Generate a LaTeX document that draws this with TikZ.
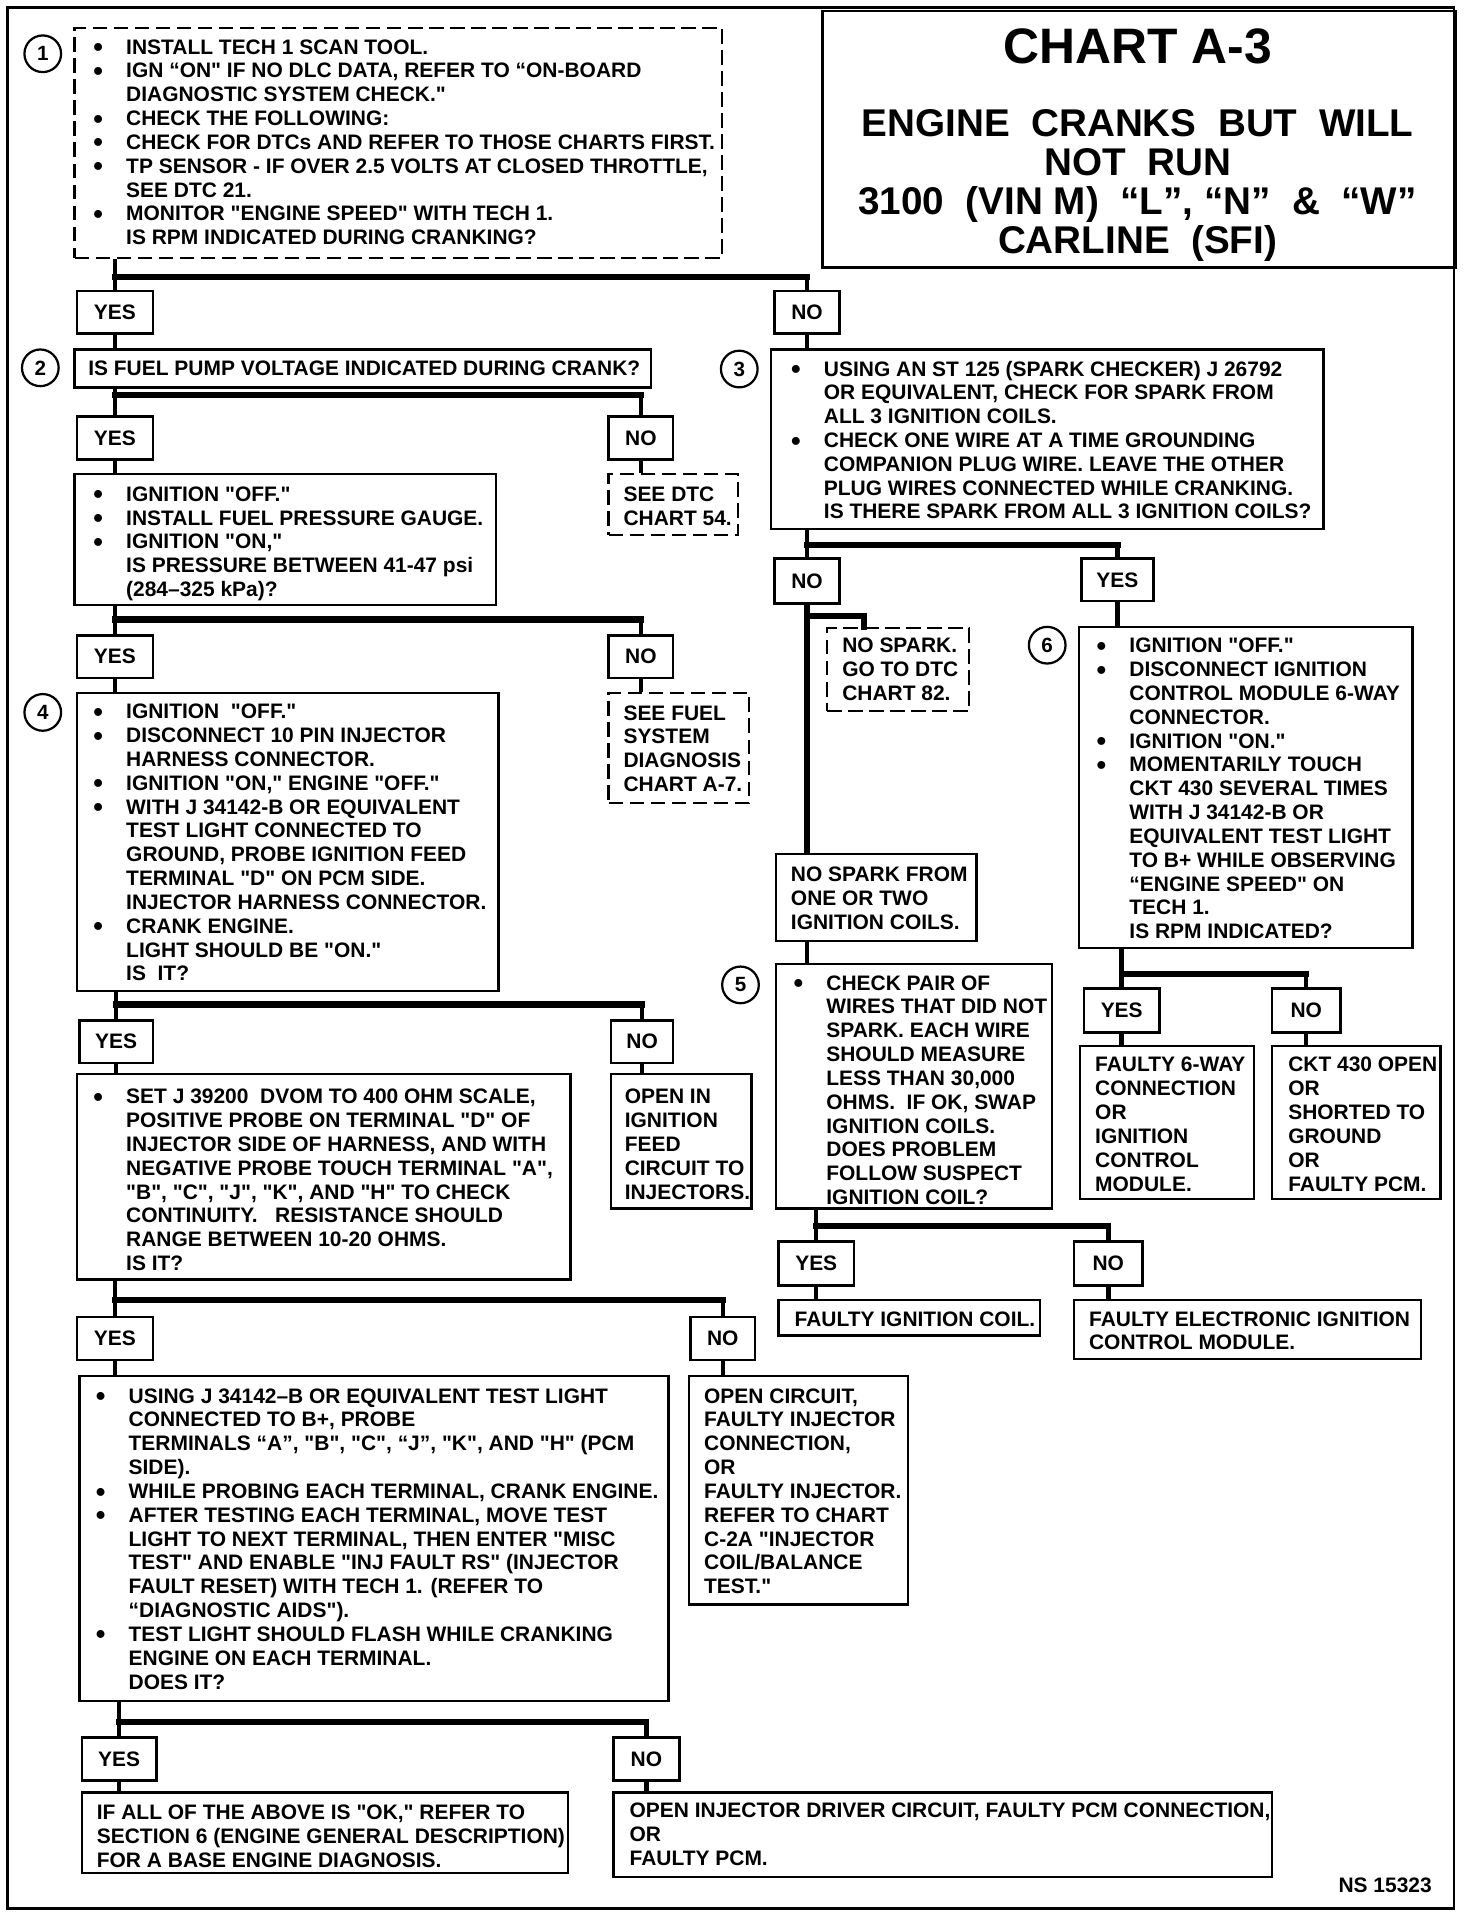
\documentclass[tikz,border=0pt]{standalone}
\usepackage{fontspec}
\setmainfont{Liberation Sans}[Ligatures=TeXOff]
\newcommand\bul{\llap{\raisebox{-1.5pt}{\fontsize{16}{16}\selectfont\textbullet}\hspace{4.75mm}}}
\newcommand\bxx[6]{\node[#1,anchor=north west,minimum width={(#5-#3)*0.25mm},minimum height={(#6-#4)*0.25mm}] (#2) at (#3,#4) {};}
\newcommand\ynb[6]{\node[yn,anchor=north west,minimum width={(#4-#2)*0.25mm},minimum height={(#5-#3)*0.25mm}] (#1) at (#2,#3) {#6};}
\tikzset{
  bx/.style={draw, line width=1.4pt, inner sep=0pt},
  dbx/.style={bx, dash pattern=on 3mm off 1.3mm},
  yn/.style={bx, font=\bfseries\fontsize{12.2}{13.9}\selectfont},
  txt/.style={anchor=north west, inner sep=0pt, align=left, font=\bfseries\fontsize{12.2}{13.87}\selectfont},
  vl/.style={line width=2.6pt},
  hb/.style={line width=3.6pt, line cap=rect},
  num/.style={circle, draw, line width=1.3pt, minimum size=7.5mm, inner sep=0pt, font=\bfseries\fontsize{12}{12}\selectfont},
}
\begin{document}
\begin{tikzpicture}[x=0.25mm,y=-0.25mm]
\useasboundingbox (0,0) rectangle (1205,1568);
\draw[line width=1.6pt] (6,6) rectangle (1190,1562);

% title
\bxx{bx}{tb}{672}{8}{1190}{218}
\node[font=\bfseries\fontsize{29}{30}\selectfont, anchor=north, inner sep=0pt] (t1) at (931,23) {CHART A-3};
\node[font=\bfseries\fontsize{22.5}{22.7}\selectfont, anchor=north, align=center, inner sep=0pt] (t2) at (931,89)
 {ENGINE~~CRANKS~~BUT~~WILL\\NOT~~RUN\\3100~~(VIN M)~~“L”,~“N”~~\&~~“W”\\CARLINE~~(SFI)};

% circles
\node[num] (c1) at (35,44) {1};
\node[num] (c2) at (33,301) {2};
\node[num] (c3) at (605,302) {3};
\node[num] (c4) at (35,583) {4};
\node[num] (c5) at (606,806) {5};
\node[num] (c6) at (857,528) {6};

% box 1
\bxx{dbx}{b1}{60}{22}{590}{210}
\node[txt] (b1t) at (103,32) {\bul INSTALL TECH 1 SCAN TOOL.\\
\bul IGN “ON" IF NO DLC DATA, REFER TO “ON-BOARD\\
DIAGNOSTIC SYSTEM CHECK."\\
\bul CHECK THE FOLLOWING:\\
\bul CHECK FOR DTCs AND REFER TO THOSE CHARTS FIRST.\\
\bul TP SENSOR - IF OVER 2.5 VOLTS AT CLOSED THROTTLE,\\
SEE DTC 21.\\
\bul MONITOR "ENGINE SPEED" WITH TECH 1.\\
IS RPM INDICATED DURING CRANKING?};
\ynb{y1}{62}{237}{124}{272}{YES}
\ynb{n1}{633}{237}{686}{272}{NO}

% box 2
\bxx{bx}{b2}{60}{285}{532}{316}
\node[txt] (b2t) at (72,295) {IS FUEL PUMP VOLTAGE INDICATED DURING CRANK?};
\ynb{y2}{62}{340}{124}{375}{YES}
\ynb{n2}{497}{340}{550}{375}{NO}
\bxx{dbx}{d54}{497}{387}{603}{437}
\node[txt] (d54t) at (510,398) {SEE DTC\\CHART 54.};
\bxx{bx}{b2a}{60}{387}{405}{494}
\node[txt] (b2at) at (103,398) {\bul IGNITION "OFF."\\
\bul INSTALL FUEL PRESSURE GAUGE.\\
\bul IGNITION "ON,"\\
IS PRESSURE BETWEEN 41-47 psi\\
(284–325 kPa)?};
\ynb{y3}{62}{519}{124}{554}{YES}
\ynb{n3}{497}{519}{550}{554}{NO}
\bxx{dbx}{d7}{497}{566}{612}{656}
\node[txt] (d7t) at (510,577) {SEE FUEL\\SYSTEM\\DIAGNOSIS\\CHART A-7.};

% box 4
\bxx{bx}{b4}{62}{566}{407}{810}
\node[txt] (b4t) at (103,576) {\bul IGNITION~~"OFF."\\
\bul DISCONNECT 10 PIN INJECTOR\\
HARNESS CONNECTOR.\\
\bul IGNITION "ON," ENGINE "OFF."\\
\bul WITH J 34142-B OR EQUIVALENT\\
TEST LIGHT CONNECTED TO\\
GROUND, PROBE IGNITION FEED\\
TERMINAL "D" ON PCM SIDE.\\
INJECTOR HARNESS CONNECTOR.\\
\bul CRANK ENGINE.\\
LIGHT SHOULD BE "ON."\\
IS~~IT?};
\ynb{y4}{64}{834}{124}{869}{YES}
\ynb{n4}{499}{834}{550}{869}{NO}
\bxx{bx}{bo}{499}{878}{614}{988}
\node[txt] (bot) at (511,891) {OPEN IN\\IGNITION\\FEED\\CIRCUIT TO\\INJECTORS.};
\bxx{bx}{bs}{62}{878}{466}{1046}
\node[txt] (bst) at (103,891) {\bul SET J 39200~~DVOM TO 400 OHM SCALE,\\
POSITIVE PROBE ON TERMINAL "D" OF\\
INJECTOR SIDE OF HARNESS, AND WITH\\
NEGATIVE PROBE TOUCH TERMINAL "A",\\
"B", "C", "J", "K", AND "H" TO CHECK\\
CONTINUITY.~~~RESISTANCE SHOULD\\
RANGE BETWEEN 10-20 OHMS.\\
IS IT?};
\ynb{y5}{62}{1077}{124}{1112}{YES}
\ynb{n5}{564}{1077}{617}{1112}{NO}
\bxx{bx}{boc}{563}{1125}{742}{1312}
\node[txt] (boct) at (576,1136) {OPEN CIRCUIT,\\FAULTY INJECTOR\\CONNECTION,\\OR\\FAULTY INJECTOR.\\REFER TO CHART\\C-2A "INJECTOR\\COIL/BALANCE\\TEST."};
\bxx{bx}{bu}{64}{1125}{546}{1391}
\node[txt] (but) at (105,1136) {\bul USING J 34142–B OR EQUIVALENT TEST LIGHT\\
CONNECTED TO B+, PROBE\\
TERMINALS “A”, "B", "C", “J”, "K", AND "H" (PCM\\
SIDE).\\
\bul WHILE PROBING EACH TERMINAL, CRANK ENGINE.\\
\bul AFTER TESTING EACH TERMINAL, MOVE TEST\\
LIGHT TO NEXT TERMINAL, THEN ENTER "MISC\\
TEST" AND ENABLE "INJ FAULT RS" (INJECTOR\\
FAULT RESET) WITH TECH 1. (REFER TO\\
“DIAGNOSTIC AIDS").\\
\bul TEST LIGHT SHOULD FLASH WHILE CRANKING\\
ENGINE ON EACH TERMINAL.\\
DOES IT?};
\ynb{y6}{66}{1421}{127}{1456}{YES}
\ynb{n6}{501}{1421}{555}{1456}{NO}
\bxx{bx}{bf}{66}{1466}{464}{1532}
\node[txt] (bft) at (79,1477) {IF ALL OF THE ABOVE IS "OK," REFER TO\\SECTION 6 (ENGINE GENERAL DESCRIPTION)\\FOR A BASE ENGINE DIAGNOSIS.};
\bxx{bx}{bi}{501}{1466}{1040}{1535}
\node[txt] (bit) at (515,1475) {OPEN INJECTOR DRIVER CIRCUIT, FAULTY PCM CONNECTION,\\OR\\FAULTY PCM.};
\node[anchor=east, inner sep=0pt, font=\bfseries\fontsize{12.2}{13.9}\selectfont] (ns) at (1172,1543) {NS 15323};

% right side
\bxx{bx}{b3}{630}{285}{1082}{432}
\node[txt] (b3t) at (674,295) {\bul USING AN ST 125 (SPARK CHECKER) J 26792\\
OR EQUIVALENT, CHECK FOR SPARK FROM\\
ALL 3 IGNITION COILS.\\
\bul CHECK ONE WIRE AT A TIME GROUNDING\\
COMPANION PLUG WIRE. LEAVE THE OTHER\\
PLUG WIRES CONNECTED WHILE CRANKING.\\
IS THERE SPARK FROM ALL 3 IGNITION COILS?};
\ynb{n7}{633}{456}{686}{493}{NO}
\ynb{y7}{884}{456}{943}{491}{YES}
\bxx{dbx}{d82}{676}{513}{792}{581}
\node[txt] (d82t) at (689,522) {NO SPARK.\\GO TO DTC\\CHART 82.};
\bxx{bx}{bn}{634}{698}{798}{769}
\node[txt] (bnt) at (647,709) {NO SPARK FROM\\ONE OR TWO\\IGNITION COILS.};
\bxx{bx}{b5}{634}{788}{860}{988}
\node[txt] (b5t) at (676,798) {\bul CHECK PAIR OF\\
WIRES THAT DID NOT\\
SPARK. EACH WIRE\\
SHOULD MEASURE\\
LESS THAN 30,000\\
OHMS.~~IF OK, SWAP\\
IGNITION COILS.\\
DOES PROBLEM\\
FOLLOW SUSPECT\\
IGNITION COIL?};
\ynb{y8}{636}{1015}{698}{1051}{YES}
\ynb{n8}{878}{1015}{934}{1051}{NO}
\bxx{bx}{bc}{636}{1063}{850}{1092}
\node[txt] (bct) at (650,1073) {FAULTY IGNITION COIL.};
\bxx{bx}{be}{878}{1063}{1162}{1111}
\node[txt] (bet) at (891,1073) {FAULTY ELECTRONIC IGNITION\\CONTROL MODULE.};
\bxx{bx}{b6}{882}{512}{1155}{775}
\node[txt] (b6t) at (924,522) {\bul IGNITION "OFF."\\
\bul DISCONNECT IGNITION\\
CONTROL MODULE 6-WAY\\
CONNECTOR.\\
\bul IGNITION "ON."\\
\bul MOMENTARILY TOUCH\\
CKT 430 SEVERAL TIMES\\
WITH J 34142-B OR\\
EQUIVALENT TEST LIGHT\\
TO B+ WHILE OBSERVING\\
“ENGINE SPEED" ON\\
TECH 1.\\
IS RPM INDICATED?};
\ynb{y9}{886}{808}{948}{844}{YES}
\ynb{n9}{1040}{808}{1096}{844}{NO}
\bxx{bx}{bw}{883}{855}{1025}{980}
\node[txt] (bwt) at (896,865) {FAULTY 6-WAY\\CONNECTION\\OR\\IGNITION\\CONTROL\\MODULE.};
\bxx{bx}{bk}{1040}{855}{1178}{980}
\node[txt] (bkt) at (1054,865) {CKT 430 OPEN\\OR\\SHORTED TO\\GROUND\\OR\\FAULTY PCM.};

% bar levels
\coordinate (k1) at (0,227);
\coordinate (k2) at (0,323);
\coordinate (k3) at (0,507);
\coordinate (k4) at (0,822);
\coordinate (k5) at (0,1064);
\coordinate (k6) at (0,1409);
\coordinate (k7) at (0,446);
\coordinate (k8) at (0,1003);
\coordinate (k9) at (0,797);
\coordinate (k10) at (707,504);

% connectors, left column
\draw[vl] (b1.south -| y1) -- (y1.north);
\draw[hb] (y1 |- k1) -- (n1 |- k1);
\draw[vl] (n1 |- k1) -- (n1.north);
\draw[vl] (y1.south) -- (y1 |- b2.north);
\draw[vl] (n1.south) -- (n1 |- b3.north);

\draw[vl] (b2.south -| y2) -- (y2.north);
\draw[hb] (y2 |- k2) -- (n2 |- k2);
\draw[vl] (n2 |- k2) -- (n2.north);
\draw[vl] (n2.south) -- (n2 |- d54.north);
\draw[vl] (y2.south) -- (y2 |- b2a.north);

\draw[vl] (b2a.south -| y3) -- (y3.north);
\draw[hb] (y3 |- k3) -- (n3 |- k3);
\draw[vl] (n3 |- k3) -- (n3.north);
\draw[vl] (n3.south) -- (n3 |- d7.north);
\draw[vl] (y3.south) -- (y3 |- b4.north);

\draw[vl] (b4.south -| y4) -- (y4.north);
\draw[hb] (y4 |- k4) -- (n4 |- k4);
\draw[vl] (n4 |- k4) -- (n4.north);
\draw[vl] (n4.south) -- (n4 |- bo.north);
\draw[vl] (y4.south) -- (y4 |- bs.north);

\draw[vl] (bs.south -| y5) -- (y5.north);
\draw[hb] (y5 |- k5) -- (n5 |- k5);
\draw[vl] (n5 |- k5) -- (n5.north);
\draw[vl] (n5.south) -- (n5 |- boc.north);
\draw[vl] (y5.south) -- (y5 |- bu.north);

\draw[vl] (bu.south -| y6) -- (y6.north);
\draw[hb] (y6 |- k6) -- (n6 |- k6);
\draw[vl] (n6 |- k6) -- (n6.north);
\draw[vl] (n6.south) -- (n6 |- bi.north);
\draw[vl] (y6.south) -- (y6 |- bf.north);

% connectors, right column
\draw[vl] (b3.south -| n7) -- (n7.north);
\draw[hb] (n7 |- k7) -- (y7 |- k7);
\draw[vl] (y7 |- k7) -- (y7.north);
\draw[hb, line cap=butt] (n7.south) -- (n7 |- bn.north);
\draw[hb, line join=miter] (n7 |- k10) -- (k10) -- (k10 |- d82.north);
\draw[vl] (n7 |- bn.south) -- (n7 |- b5.north);
\draw[vl] (y7.south) -- (y7 |- b6.north);

\draw[vl] (b5.south -| y8) -- (y8.north);
\draw[hb] (y8 |- k8) -- (n8 |- k8);
\draw[vl] (n8 |- k8) -- (n8.north);
\draw[vl] (y8.south) -- (y8 |- bc.north);
\draw[vl] (n8.south) -- (n8 |- be.north);

\draw[vl] (b6.south -| y9) -- (y9.north);
\draw[hb] (y9 |- k9) -- (n9 |- k9);
\draw[vl] (n9 |- k9) -- (n9.north);
\draw[vl] (y9.south) -- (y9 |- bw.north);
\draw[vl] (n9.south) -- (n9 |- bk.north);
\end{tikzpicture}
\end{document}
